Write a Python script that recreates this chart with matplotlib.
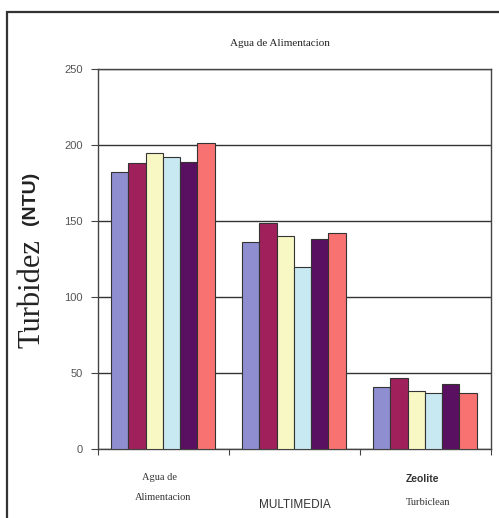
import matplotlib.pyplot as plt
import matplotlib.patches as mpatches
import numpy as np

# Turbidez por etapa (6 series)
categorias = ["Agua de\nAlimentacion", "MULTIMEDIA", "Zeolite\nTurbiclean"]
serie1 = [182, 136, 41]
serie2 = [188, 149, 47]
serie3 = [195, 140, 38]
serie4 = [192, 120, 37]
serie5 = [189, 138, 43]
serie6 = [201, 142, 37]
series = [serie1, serie2, serie3, serie4, serie5, serie6]
colores = ["#8E8ED0", "#A0205C", "#F8F8C4", "#C8E8F2", "#5A1060", "#F87272"]
yticks = [0, 50, 100, 150, 200, 250]

fig = plt.figure(figsize=(4.99, 5.18), dpi=100)
ax = fig.add_axes([98/499, 1-449/518, 393/499, 380/518])

x = np.arange(len(categorias))
ancho = 0.132
for i, (s, c) in enumerate(zip(series, colores)):
    ax.bar(x - 2.5*ancho + i*ancho - 0.005, s, ancho, color=c,
           edgecolor="#333333", linewidth=0.8, zorder=3)

ax.set_xlim(-0.5, 2.5)
ax.set_ylim(0, 250)
ax.set_yticks(yticks)
ax.set_yticklabels([str(v) for v in yticks], fontsize=8, color="#555555",
                   family="Liberation Sans")
ax.yaxis.grid(True, color="#333333", linewidth=1.0, zorder=0)
ax.set_xticks([-0.5, 0.5, 1.5, 2.5])
ax.set_xticklabels([])
ax.tick_params(axis="x", direction="out", length=4, color="#444444")
ax.tick_params(axis="y", direction="out", length=5, color="#444444", pad=6)
for sp in ["left", "right", "bottom", "top"]:
    ax.spines[sp].set_color("#444444")
    ax.spines[sp].set_linewidth(1.0)

tr = ax.get_xaxis_transform()
ax.text(-0.03, -0.074, "Agua de", transform=tr, ha="center", va="center",
        family="Liberation Serif", fontsize=7.5, color="#333333")
ax.text(0.0, -0.128, "Alimentacion", transform=tr, ha="center", va="center",
        family="Liberation Serif", fontsize=7.5, color="#333333")
ax.text(1.0, -0.147, "MULTIMEDIA", transform=tr, ha="center", va="center",
        family="Liberation Sans", fontsize=8.5, color="#333333")
ax.text(1.98, -0.079, "Zeolite", transform=tr, ha="center", va="center",
        family="Liberation Sans", fontsize=7.5, color="#333333", weight="bold")
ax.text(2.02, -0.142, "Turbiclean", transform=tr, ha="center", va="center",
        family="Liberation Serif", fontsize=7.5, color="#333333")

fig.text(280/499, 1-43/518, "Agua de Alimentacion", ha="center", va="center",
         family="Liberation Serif", fontsize=8, color="#222222")
fig.text(32/499, 1-293/518, "Turbidez", ha="center", va="center", rotation=90,
         family="Liberation Serif", fontsize=22, color="#222222")
fig.text(31/499, 1-198/518, "(NTU)", ha="center", va="center", rotation=90,
         family="Liberation Sans", fontsize=14, weight="bold", color="#222222")

# marco exterior
fig.patches.append(mpatches.Rectangle((7/499, -0.1), 1.2, 1-12/518+0.1,
                                      transform=fig.transFigure, fill=False,
                                      edgecolor="#333333", linewidth=1.6))

fig.savefig("out.png", dpi=100)
